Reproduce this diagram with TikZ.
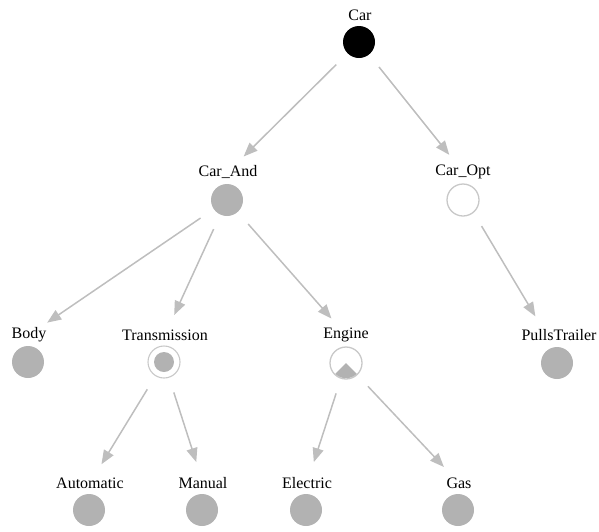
\documentclass[tikz,border=0pt]{standalone}
\usepackage{fontspec}
\setmainfont{Liberation Serif}
\usetikzlibrary{arrows.meta,calc}
\definecolor{featfill}{RGB}{178,178,178}
\definecolor{edgegray}{RGB}{190,190,190}
\definecolor{ringgray}{RGB}{200,200,200}
\tikzset{
  feat/.style={circle, minimum size=32pt, inner sep=0pt, fill=featfill},
  rootfeat/.style={circle, minimum size=32pt, inner sep=0pt, fill=black},
  hollow/.style={circle, minimum size=32pt, inner sep=0pt, draw=ringgray, line width=1.3pt, fill=white},
  flabel/.style={font=\fontsize{16}{18}\selectfont, inner sep=1pt},
  edge/.style={draw=edgegray, line width=1.5pt, -{Triangle[length=14pt,width=11pt]}},
}
\newcommand{\featedge}[3][0pt]{%
  \draw[edge] ($(#2)!32pt!(#3)$) -- ($([xshift=#1]#3.center)!22pt!(#2)$);}
\begin{document}
\begin{tikzpicture}[x=1pt,y=-1pt]
\useasboundingbox (0,0) rectangle (599,531);

% features: circle plus name above it
\node[rootfeat] (car) at (359,42) {};
\node[flabel] (carL) at (360,15) {Car};

\node[feat] (and) at (227,200) {};
\node[flabel] (andL) at (228,172) {Car\_And};

\node[hollow] (opt) at (463,200) {};
\node[flabel] (optL) at (463,172) {Car\_Opt};

\node[feat] (body) at (28,362) {};
\node[flabel] (bodyL) at (29,335) {Body};

% alternative group: ring with a filled core
\node[circle, minimum size=32pt, inner sep=0pt, draw=ringgray, line width=1.1pt] (trans) at (164,362) {};
\node[circle, minimum size=20pt, inner sep=0pt, fill=featfill] at (trans) {};
\node[flabel] (transL) at (165,335) {Transmission};

% or group: ring with a filled lower wedge (y axis points down here)
\node[hollow] (eng) at (346,363) {};
\fill[featfill] (eng.center) -- ($(eng.center)+(45:15.2)$) arc[start angle=45, end angle=135, radius=15.2] -- cycle;
\node[flabel] (engL) at (346,335) {Engine};

\node[feat] (pull) at (557,363) {};
\node[flabel] (pullL) at (559,335) {PullsTrailer};

\node[feat] (auto) at (89,510) {};
\node[flabel] (autoL) at (90,483) {Automatic};

\node[feat] (man) at (202,510) {};
\node[flabel] (manL) at (203,483) {Manual};

\node[feat] (elec) at (306,510) {};
\node[flabel] (elecL) at (307,483) {Electric};

\node[feat] (gas) at (458,510) {};
\node[flabel] (gasL) at (459,483) {Gas};

% parent-child connectors
\featedge{car}{andL}
\featedge{car}{optL}
\featedge{and}{bodyL}
\featedge{and}{transL}
\featedge{and}{engL}
\featedge[-12pt]{opt}{pullL}
\featedge{trans}{autoL}
\featedge{trans}{manL}
\featedge{eng}{elecL}
\featedge{eng}{gasL}
\end{tikzpicture}
\end{document}
